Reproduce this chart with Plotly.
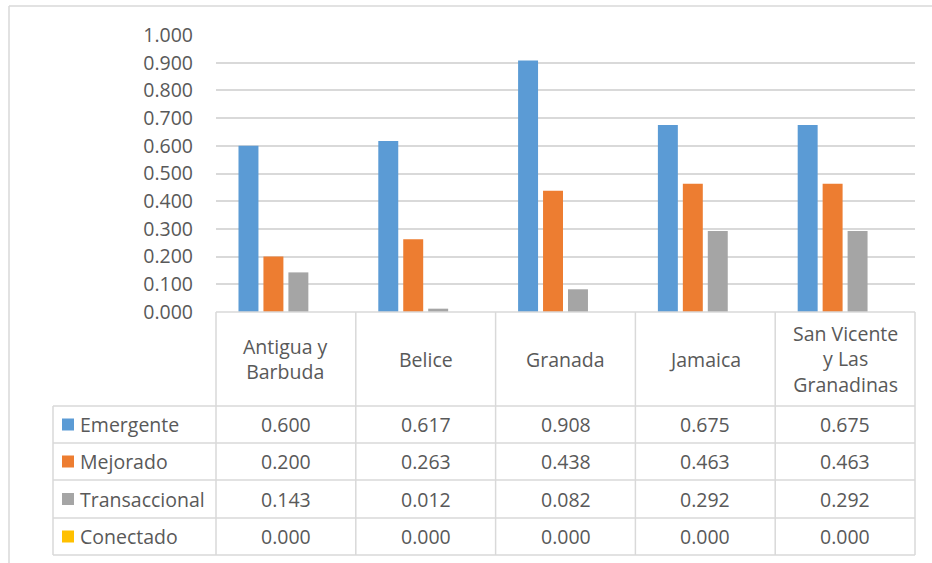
import plotly.graph_objects as go

# --- Datos ---
paises = ["Antigua y Barbuda", "Belice", "Granada", "Jamaica", "San Vicente y Las Granadinas"]
etiquetas = ["Antigua y<br>Barbuda", "Belice", "Granada", "Jamaica", "San Vicente<br>y Las<br>Granadinas"]
series = ["Emergente", "Mejorado", "Transaccional", "Conectado"]
emergente = [0.600, 0.617, 0.908, 0.675, 0.675]
mejorado = [0.200, 0.263, 0.438, 0.463, 0.463]
transaccional = [0.143, 0.012, 0.082, 0.292, 0.292]
conectado = [0.000, 0.000, 0.000, 0.000, 0.000]
valores = [emergente, mejorado, transaccional, conectado]
colores = ["#5b9bd5", "#ed7d31", "#a5a5a5", "#ffc000"]

# --- Geometria (pixeles) ---
W, H = 932, 563
PL, PR, PT, PB = 216, 915, 35, 312
FILAS = [406, 443, 480, 518, 555]
LEG_X = 53
GRIS = "#d9d9d9"
TEXTO = "#595959"
FUENTE = "Open Sans"
TAM = 19.5


def fx(x):
    return (x - PL) / (PR - PL)


def fy(y):
    return (PB - y) / (PB - PT)


fig = go.Figure()
for nombre, vals, color in zip(series, valores, colores):
    fig.add_trace(go.Bar(x=paises, y=vals, name=nombre, marker=dict(color=color, line=dict(width=0))))

shapes = []
linea = dict(color=GRIS, width=1.5)
# marco exterior
shapes.append(dict(type="line", xref="paper", yref="paper", x0=fx(9), x1=fx(W), y0=fy(6), y1=fy(6), line=linea))
shapes.append(dict(type="line", xref="paper", yref="paper", x0=fx(9), x1=fx(9), y0=fy(6), y1=fy(H), line=linea))
# tabla: lineas verticales
ancho = (PR - PL) / len(paises)
for k in range(len(paises) + 1):
    x = PL + k * ancho
    shapes.append(dict(type="line", xref="paper", yref="paper", x0=fx(x), x1=fx(x), y0=fy(PB), y1=fy(FILAS[-1]), line=linea))
shapes.append(dict(type="line", xref="paper", yref="paper", x0=fx(LEG_X), x1=fx(LEG_X), y0=fy(FILAS[0]), y1=fy(FILAS[-1]), line=linea))
# tabla: lineas horizontales
shapes.append(dict(type="line", xref="paper", yref="paper", x0=0, x1=1, y0=0, y1=0, line=linea))
for y in FILAS:
    shapes.append(dict(type="line", xref="paper", yref="paper", x0=fx(LEG_X), x1=1, y0=fy(y), y1=fy(y), line=linea))

anotaciones = []
# encabezados de categoria
for p, et in zip(paises, etiquetas):
    anotaciones.append(dict(x=p, xref="x", y=fy((PB + FILAS[0]) / 2), yref="paper", text=et, showarrow=False,
                            xanchor="center", yanchor="middle", font=dict(family=FUENTE, size=TAM, color=TEXTO)))
# filas de datos
for i, (nombre, vals, color) in enumerate(zip(series, valores, colores)):
    yc = (FILAS[i] + FILAS[i + 1]) / 2
    shapes.append(dict(type="rect", xref="paper", yref="paper", x0=fx(62), x1=fx(74), y0=fy(yc - 6), y1=fy(yc + 6),
                       fillcolor=color, line=dict(width=0)))
    anotaciones.append(dict(x=fx(78), xref="paper", y=fy(yc), yref="paper", text=nombre, showarrow=False,
                            xanchor="left", yanchor="middle", font=dict(family=FUENTE, size=TAM, color=TEXTO)))
    for p, v in zip(paises, vals):
        anotaciones.append(dict(x=p, xref="x", y=fy(yc), yref="paper", text=f"{v:.3f}", showarrow=False,
                                xanchor="center", yanchor="middle", font=dict(family=FUENTE, size=TAM, color=TEXTO)))

fig.update_layout(
    width=W, height=H,
    margin=dict(l=PL, r=W - PR, t=PT, b=H - PB, pad=0),
    paper_bgcolor="white", plot_bgcolor="white",
    barmode="group", bargap=0.286, bargroupgap=0.2,
    showlegend=False,
    shapes=shapes, annotations=anotaciones,
    font=dict(family=FUENTE, size=TAM, color=TEXTO),
    xaxis=dict(showticklabels=False, showgrid=False, zeroline=False, showline=False, ticks=""),
    yaxis=dict(range=[0, 1], dtick=0.1, tickformat=".3f", showgrid=True, gridcolor=GRIS, gridwidth=1.5,
               zeroline=False, showline=False, ticks="", ticklabelstandoff=22,
               tickfont=dict(family=FUENTE, size=TAM, color=TEXTO)),
)

fig.write_html("out.html", config={"displayModeBar": False},
               post_script="document.body.style.margin = '0';")
